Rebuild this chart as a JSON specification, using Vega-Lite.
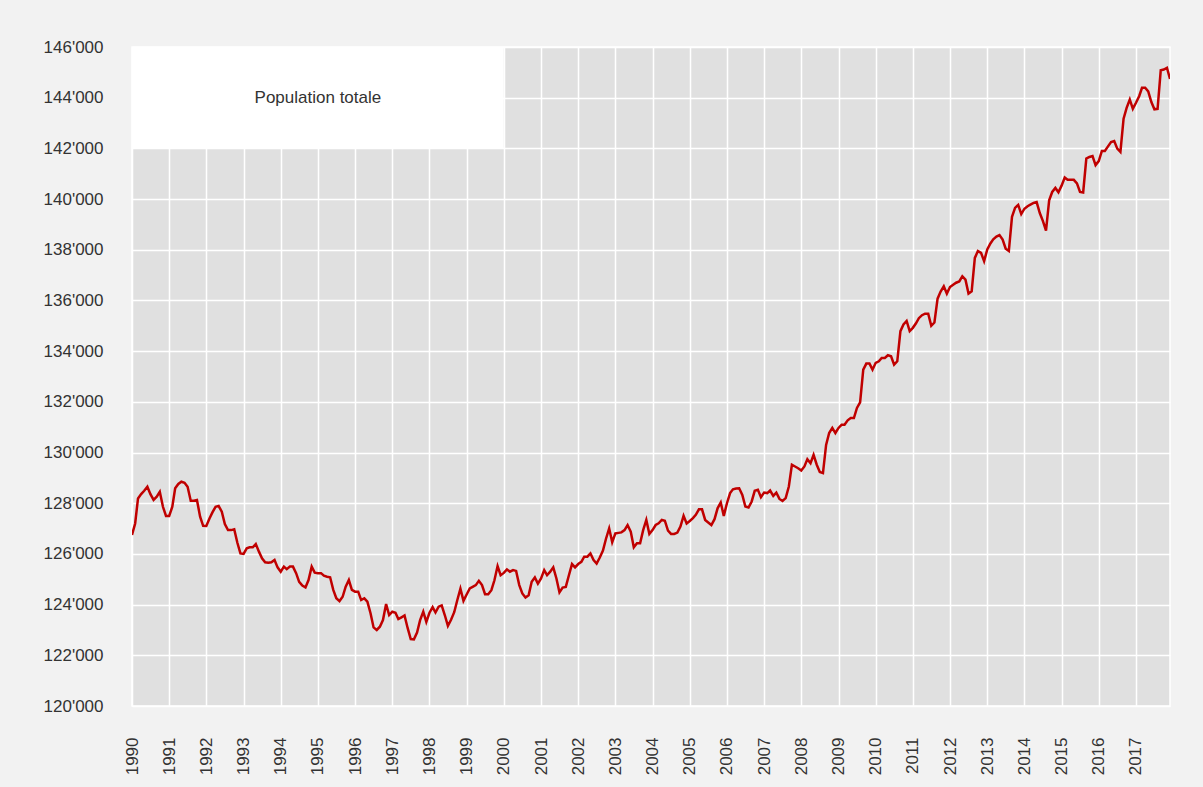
{
  "$schema": "https://vega.github.io/schema/vega-lite/v6.json",
  "width": 1038,
  "height": 659,
  "autosize": {"type": "none"},
  "padding": {"left": 132, "top": 47, "right": 33, "bottom": 81},
  "background": "#f2f2f2",
  "datasets": {
    "pop": [
      {"date":"1990-01","value":126750},{"date":"1990-02","value":127200},{"date":"1990-03","value":128190},{"date":"1990-04","value":128360},{"date":"1990-05","value":128490},{"date":"1990-06","value":128650},{"date":"1990-07","value":128360},{"date":"1990-08","value":128130},{"date":"1990-09","value":128260},{"date":"1990-10","value":128450},{"date":"1990-11","value":127860},{"date":"1990-12","value":127500},
      {"date":"1991-01","value":127500},{"date":"1991-02","value":127860},{"date":"1991-03","value":128590},{"date":"1991-04","value":128760},{"date":"1991-05","value":128850},{"date":"1991-06","value":128810},{"date":"1991-07","value":128650},{"date":"1991-08","value":128100},{"date":"1991-09","value":128100},{"date":"1991-10","value":128130},{"date":"1991-11","value":127470},{"date":"1991-12","value":127110},
      {"date":"1992-01","value":127100},{"date":"1992-02","value":127400},{"date":"1992-03","value":127640},{"date":"1992-04","value":127860},{"date":"1992-05","value":127890},{"date":"1992-06","value":127670},{"date":"1992-07","value":127180},{"date":"1992-08","value":126940},{"date":"1992-09","value":126940},{"date":"1992-10","value":126970},{"date":"1992-11","value":126440},{"date":"1992-12","value":126020},
      {"date":"1993-01","value":126000},{"date":"1993-02","value":126220},{"date":"1993-03","value":126260},{"date":"1993-04","value":126260},{"date":"1993-05","value":126390},{"date":"1993-06","value":126090},{"date":"1993-07","value":125830},{"date":"1993-08","value":125670},{"date":"1993-09","value":125650},{"date":"1993-10","value":125670},{"date":"1993-11","value":125760},{"date":"1993-12","value":125470},
      {"date":"1994-01","value":125300},{"date":"1994-02","value":125500},{"date":"1994-03","value":125400},{"date":"1994-04","value":125500},{"date":"1994-05","value":125500},{"date":"1994-06","value":125240},{"date":"1994-07","value":124900},{"date":"1994-08","value":124750},{"date":"1994-09","value":124680},{"date":"1994-10","value":124970},{"date":"1994-11","value":125500},{"date":"1994-12","value":125260},
      {"date":"1995-01","value":125240},{"date":"1995-02","value":125240},{"date":"1995-03","value":125140},{"date":"1995-04","value":125100},{"date":"1995-05","value":125080},{"date":"1995-06","value":124580},{"date":"1995-07","value":124250},{"date":"1995-08","value":124140},{"date":"1995-09","value":124310},{"date":"1995-10","value":124710},{"date":"1995-11","value":124970},{"date":"1995-12","value":124580},
      {"date":"1996-01","value":124510},{"date":"1996-02","value":124510},{"date":"1996-03","value":124180},{"date":"1996-04","value":124250},{"date":"1996-05","value":124120},{"date":"1996-06","value":123660},{"date":"1996-07","value":123100},{"date":"1996-08","value":123000},{"date":"1996-09","value":123130},{"date":"1996-10","value":123390},{"date":"1996-11","value":124020},{"date":"1996-12","value":123590},
      {"date":"1997-01","value":123720},{"date":"1997-02","value":123680},{"date":"1997-03","value":123430},{"date":"1997-04","value":123500},{"date":"1997-05","value":123570},{"date":"1997-06","value":123070},{"date":"1997-07","value":122640},{"date":"1997-08","value":122630},{"date":"1997-09","value":122900},{"date":"1997-10","value":123390},{"date":"1997-11","value":123720},{"date":"1997-12","value":123320},
      {"date":"1998-01","value":123680},{"date":"1998-02","value":123900},{"date":"1998-03","value":123690},{"date":"1998-04","value":123920},{"date":"1998-05","value":123970},{"date":"1998-06","value":123580},{"date":"1998-07","value":123160},{"date":"1998-08","value":123400},{"date":"1998-09","value":123700},{"date":"1998-10","value":124170},{"date":"1998-11","value":124630},{"date":"1998-12","value":124150},
      {"date":"1999-01","value":124400},{"date":"1999-02","value":124640},{"date":"1999-03","value":124700},{"date":"1999-04","value":124770},{"date":"1999-05","value":124940},{"date":"1999-06","value":124770},{"date":"1999-07","value":124410},{"date":"1999-08","value":124410},{"date":"1999-09","value":124570},{"date":"1999-10","value":124960},{"date":"1999-11","value":125520},{"date":"1999-12","value":125160},
      {"date":"2000-01","value":125250},{"date":"2000-02","value":125390},{"date":"2000-03","value":125300},{"date":"2000-04","value":125360},{"date":"2000-05","value":125330},{"date":"2000-06","value":124770},{"date":"2000-07","value":124440},{"date":"2000-08","value":124280},{"date":"2000-09","value":124370},{"date":"2000-10","value":124900},{"date":"2000-11","value":125070},{"date":"2000-12","value":124830},
      {"date":"2001-01","value":125030},{"date":"2001-02","value":125360},{"date":"2001-03","value":125160},{"date":"2001-04","value":125300},{"date":"2001-05","value":125470},{"date":"2001-06","value":125030},{"date":"2001-07","value":124480},{"date":"2001-08","value":124670},{"date":"2001-09","value":124700},{"date":"2001-10","value":125150},{"date":"2001-11","value":125600},{"date":"2001-12","value":125470},
      {"date":"2002-01","value":125600},{"date":"2002-02","value":125690},{"date":"2002-03","value":125890},{"date":"2002-04","value":125890},{"date":"2002-05","value":126020},{"date":"2002-06","value":125760},{"date":"2002-07","value":125620},{"date":"2002-08","value":125860},{"date":"2002-09","value":126130},{"date":"2002-10","value":126600},{"date":"2002-11","value":127010},{"date":"2002-12","value":126460},
      {"date":"2003-01","value":126810},{"date":"2003-02","value":126830},{"date":"2003-03","value":126850},{"date":"2003-04","value":126940},{"date":"2003-05","value":127140},{"date":"2003-06","value":126880},{"date":"2003-07","value":126260},{"date":"2003-08","value":126420},{"date":"2003-09","value":126420},{"date":"2003-10","value":126940},{"date":"2003-11","value":127340},{"date":"2003-12","value":126790},
      {"date":"2004-01","value":126940},{"date":"2004-02","value":127140},{"date":"2004-03","value":127210},{"date":"2004-04","value":127340},{"date":"2004-05","value":127310},{"date":"2004-06","value":126920},{"date":"2004-07","value":126790},{"date":"2004-08","value":126790},{"date":"2004-09","value":126840},{"date":"2004-10","value":127080},{"date":"2004-11","value":127500},{"date":"2004-12","value":127200},
      {"date":"2005-01","value":127300},{"date":"2005-02","value":127410},{"date":"2005-03","value":127540},{"date":"2005-04","value":127760},{"date":"2005-05","value":127760},{"date":"2005-06","value":127340},{"date":"2005-07","value":127240},{"date":"2005-08","value":127140},{"date":"2005-09","value":127370},{"date":"2005-10","value":127800},{"date":"2005-11","value":128030},{"date":"2005-12","value":127500},
      {"date":"2006-01","value":128000},{"date":"2006-02","value":128400},{"date":"2006-03","value":128550},{"date":"2006-04","value":128580},{"date":"2006-05","value":128590},{"date":"2006-06","value":128330},{"date":"2006-07","value":127870},{"date":"2006-08","value":127830},{"date":"2006-09","value":128070},{"date":"2006-10","value":128490},{"date":"2006-11","value":128530},{"date":"2006-12","value":128240},
      {"date":"2007-01","value":128420},{"date":"2007-02","value":128400},{"date":"2007-03","value":128500},{"date":"2007-04","value":128290},{"date":"2007-05","value":128420},{"date":"2007-06","value":128170},{"date":"2007-07","value":128090},{"date":"2007-08","value":128200},{"date":"2007-09","value":128660},{"date":"2007-10","value":129520},{"date":"2007-11","value":129450},{"date":"2007-12","value":129380},
      {"date":"2008-01","value":129290},{"date":"2008-02","value":129450},{"date":"2008-03","value":129740},{"date":"2008-04","value":129580},{"date":"2008-05","value":129910},{"date":"2008-06","value":129520},{"date":"2008-07","value":129230},{"date":"2008-08","value":129190},{"date":"2008-09","value":130300},{"date":"2008-10","value":130770},{"date":"2008-11","value":130970},{"date":"2008-12","value":130770},
      {"date":"2009-01","value":130970},{"date":"2009-02","value":131100},{"date":"2009-03","value":131100},{"date":"2009-04","value":131270},{"date":"2009-05","value":131360},{"date":"2009-06","value":131360},{"date":"2009-07","value":131760},{"date":"2009-08","value":131980},{"date":"2009-09","value":133270},{"date":"2009-10","value":133510},{"date":"2009-11","value":133510},{"date":"2009-12","value":133270},
      {"date":"2010-01","value":133540},{"date":"2010-02","value":133600},{"date":"2010-03","value":133730},{"date":"2010-04","value":133730},{"date":"2010-05","value":133840},{"date":"2010-06","value":133800},{"date":"2010-07","value":133470},{"date":"2010-08","value":133600},{"date":"2010-09","value":134790},{"date":"2010-10","value":135050},{"date":"2010-11","value":135190},{"date":"2010-12","value":134790},
      {"date":"2011-01","value":134920},{"date":"2011-02","value":135100},{"date":"2011-03","value":135300},{"date":"2011-04","value":135420},{"date":"2011-05","value":135480},{"date":"2011-06","value":135480},{"date":"2011-07","value":135000},{"date":"2011-08","value":135130},{"date":"2011-09","value":136070},{"date":"2011-10","value":136350},{"date":"2011-11","value":136560},{"date":"2011-12","value":136270},
      {"date":"2012-01","value":136530},{"date":"2012-02","value":136620},{"date":"2012-03","value":136700},{"date":"2012-04","value":136750},{"date":"2012-05","value":136950},{"date":"2012-06","value":136820},{"date":"2012-07","value":136270},{"date":"2012-08","value":136360},{"date":"2012-09","value":137680},{"date":"2012-10","value":137950},{"date":"2012-11","value":137880},{"date":"2012-12","value":137550},
      {"date":"2013-01","value":138010},{"date":"2013-02","value":138250},{"date":"2013-03","value":138410},{"date":"2013-04","value":138520},{"date":"2013-05","value":138580},{"date":"2013-06","value":138400},{"date":"2013-07","value":138040},{"date":"2013-08","value":137950},{"date":"2013-09","value":139300},{"date":"2013-10","value":139650},{"date":"2013-11","value":139770},{"date":"2013-12","value":139410},
      {"date":"2014-01","value":139620},{"date":"2014-02","value":139720},{"date":"2014-03","value":139780},{"date":"2014-04","value":139850},{"date":"2014-05","value":139880},{"date":"2014-06","value":139450},{"date":"2014-07","value":139140},{"date":"2014-08","value":138760},{"date":"2014-09","value":139950},{"date":"2014-10","value":140280},{"date":"2014-11","value":140440},{"date":"2014-12","value":140270},
      {"date":"2015-01","value":140530},{"date":"2015-02","value":140850},{"date":"2015-03","value":140760},{"date":"2015-04","value":140760},{"date":"2015-05","value":140760},{"date":"2015-06","value":140620},{"date":"2015-07","value":140280},{"date":"2015-08","value":140260},{"date":"2015-09","value":141600},{"date":"2015-10","value":141660},{"date":"2015-11","value":141700},{"date":"2015-12","value":141340},
      {"date":"2016-01","value":141500},{"date":"2016-02","value":141900},{"date":"2016-03","value":141900},{"date":"2016-04","value":142080},{"date":"2016-05","value":142250},{"date":"2016-06","value":142290},{"date":"2016-07","value":141990},{"date":"2016-08","value":141860},{"date":"2016-09","value":143170},{"date":"2016-10","value":143600},{"date":"2016-11","value":143930},{"date":"2016-12","value":143560},
      {"date":"2017-01","value":143800},{"date":"2017-02","value":144060},{"date":"2017-03","value":144390},{"date":"2017-04","value":144390},{"date":"2017-05","value":144250},{"date":"2017-06","value":143830},{"date":"2017-07","value":143540},{"date":"2017-08","value":143560},{"date":"2017-09","value":145080},{"date":"2017-10","value":145110},{"date":"2017-11","value":145180},{"date":"2017-12","value":144740}
    ],
    "box": [
      {"start": "1990-01", "end": "2000-01", "mid": "1995-01", "low": 142000, "high": 146000, "center": 144000, "label": "Population totale"}
    ]
  },
  "encoding": {
    "x": {
      "type": "temporal",
      "scale": {"type": "utc", "nice": false, "domain": ["1990-01", "2017-12"]},
      "axis": {
        "format": "%Y",
        "formatType": "utc",
        "tickCount": {"interval": "year", "step": 1},
        "labelAngle": -90,
        "labelPadding": 31,
        "title": null
      }
    },
    "y": {
      "type": "quantitative",
      "scale": {"domain": [120000, 146000], "nice": false, "zero": false},
      "axis": {
        "values": [120000, 122000, 124000, 126000, 128000, 130000, 132000, 134000, 136000, 138000, 140000, 142000, 144000, 146000],
        "format": ",d",
        "labelPadding": 29,
        "title": null
      }
    }
  },
  "layer": [
    {
      "data": {"name": "box"},
      "mark": {"type": "rect", "fill": "#ffffff", "stroke": null},
      "encoding": {
        "x": {"field": "start", "type": "temporal"},
        "x2": {"field": "end"},
        "y": {"field": "low", "type": "quantitative"},
        "y2": {"field": "high"}
      }
    },
    {
      "data": {"name": "box"},
      "mark": {"type": "text", "fontSize": 17, "font": "Liberation Sans", "color": "#333333", "align": "center", "baseline": "middle"},
      "encoding": {
        "x": {"field": "mid", "type": "temporal"},
        "y": {"field": "center", "type": "quantitative"},
        "text": {"field": "label"}
      }
    },
    {
      "data": {"name": "pop"},
      "mark": {"type": "line", "color": "#c00000", "strokeWidth": 2.5, "clip": true},
      "encoding": {
        "x": {"field": "date", "type": "temporal"},
        "y": {"field": "value", "type": "quantitative"}
      }
    }
  ],
  "config": {
    "locale": {"number": {"decimal": ".", "thousands": "'", "grouping": [3], "currency": ["", ""]}},
    "view": {"fill": "#e0e0e0", "stroke": "#ffffff", "strokeWidth": 1.5},
    "axis": {
      "domain": false,
      "ticks": false,
      "grid": true,
      "gridColor": "#ffffff",
      "gridWidth": 1.5,
      "gridOpacity": 1,
      "labelFont": "Liberation Sans",
      "labelFontSize": 17,
      "labelColor": "#333333"
    }
  }
}
